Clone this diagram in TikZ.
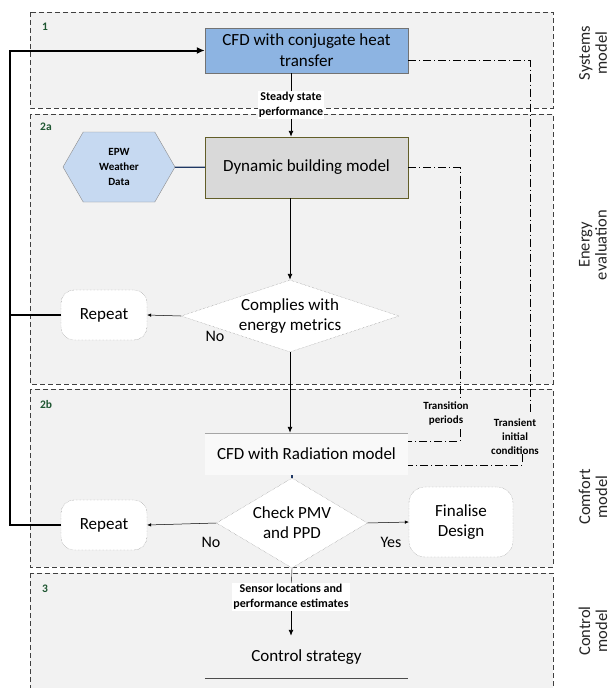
\documentclass[tikz,border=0pt]{standalone}
\usepackage{fontspec}
\setmainfont{Carlito}
\usepackage{xcolor}
\usetikzlibrary{arrows.meta, positioning, shapes.geometric, shapes.symbols}

\definecolor{panelgray}{HTML}{F2F2F2}
\definecolor{cfdblue}{HTML}{8DB4E2}
\definecolor{epwblue}{HTML}{C6D9F1}
\definecolor{dyngray}{HTML}{D9D9D9}
\definecolor{radwhite}{HTML}{F9F9F9}
\definecolor{stagegreen}{HTML}{1E5631}
\definecolor{linknavy}{HTML}{1F3864}

\begin{document}
\begin{tikzpicture}[x=1pt, y=-1pt,
  panel/.style={draw=black!75, fill=panelgray, line width=0.8pt, dash pattern=on 5pt off 3pt},
  box/.style={align=center, font=\fontsize{17}{21}\selectfont, minimum width=203pt, inner sep=4pt},
  decision/.style={diamond, draw=black!50, densely dotted, fill=white, align=center,
                   font=\fontsize{17}{20}\selectfont},
  term/.style={rounded corners=13pt, draw=black!50, densely dotted, fill=white, align=center,
               font=\fontsize{17}{20}\selectfont, minimum width=86pt, minimum height=50pt},
  note/.style={font=\bfseries\fontsize{11}{14}\selectfont, align=center, inner sep=1pt},
  stage/.style={font=\bfseries\fontsize{11.5}{13}\selectfont, text=stagegreen},
  side/.style={rotate=90, align=center, font=\fontsize{16.5}{17}\selectfont, text=black!85},
  answer/.style={font=\fontsize{16}{18}\selectfont},
  arr/.style={-{Latex[length=6pt, width=5pt]}, line width=0.9pt},
  thinarr/.style={-{Latex[length=4pt, width=3.5pt]}, line width=0.5pt},
  dd/.style={line width=0.9pt, dash pattern=on 8pt off 3pt on 1pt off 3pt},
  loopline/.style={line width=2pt},
]
  \useasboundingbox (0,0) rectangle (611,688);
  \fill[white] (0,0) rectangle (611,688);

  % stages
  \draw[panel] (30,12) rectangle (553,108);
  \draw[panel] (30,114) rectangle (553,384);
  \draw[panel] (30,389) rectangle (553,567);
  \draw[panel] (30,573) rectangle (553,700);

  \node[stage] (s1)  at (45,27)  {1};
  \node[stage] (s2a) at (46,127) {2a};
  \node[stage] (s2b) at (46,405) {2b};
  \node[stage] (s3)  at (45,589) {3};

  \node[side] (sys)  at (593,53)  {Systems\\model};
  \node[side] (enr)  at (593,245) {Energy\\evaluation};
  \node[side] (cmf)  at (593,497) {Comfort\\model};
  \node[side] (ctl)  at (593,631) {Control\\model};

  % blocks
  \node[box, fill=cfdblue, draw=black!55, minimum height=45pt] (cfd) at (306.5,50.5)
       {CFD with conjugate heat\\transfer};
  \node[box, fill=dyngray, draw=olive!60!black, minimum height=61pt] (dyn) at (306.5,167.5)
       {Dynamic building model};
  \node[signal, signal to=west and east, signal pointer angle=120, fill=epwblue, draw=black!45,
        minimum width=112pt, minimum height=70pt, align=center, inner sep=1pt,
        font=\bfseries\fontsize{11}{15}\selectfont] (epw) at (119,167) {EPW\\Weather\\Data};
  \node[decision, aspect=3, inner sep=-6pt, minimum width=218pt, minimum height=72pt] (dec1)
       at (290,316) {Complies with\\energy metrics};
  \node[term] (rep1) at (104,315) {Repeat};
  \node[box, fill=radwhite, minimum height=42pt] (rad) at (306.5,454) {CFD with Radiation model};
  \node[decision, aspect=1.7, inner sep=-2pt, minimum width=151pt, minimum height=90pt] (dec2)
       at (292,523) {Check PMV\\and PPD};
  \node[term] (rep2) at (104,525) {Repeat};
  \node[term, minimum width=104pt, minimum height=70pt, rounded corners=16pt] (fin) at (461,522)
       {Finalise\\Design};
  \node[box, minimum height=42pt] (ctrl) at (306.5,657) {Control strategy};

  \node[note, fill=white, font=\bfseries\fontsize{12}{15}\selectfont] (steady) at (291,105)
       {Steady state\\performance};
  \node[note, fill=white, font=\bfseries\fontsize{12}{15}\selectfont] (sensor) at (291,597)
       {Sensor locations and\\performance estimates};
  \node[note] (transit)   at (446,413) {Transition\\periods};
  \node[note] (transient) at (515,437) {Transient\\initial\\conditions};

  \node[answer] (no1)  at (215,336) {No};
  \node[answer] (no2)  at (211,542) {No};
  \node[answer] (yes2) at (391,542) {Yes};

  % flow
  \draw (steady |- cfd.south) -- (steady);
  \draw[arr] (steady) -- (steady |- dyn.north);
  \draw[linknavy, line width=1.2pt] (epw) -- (dyn);
  \draw[arr] (dec1 |- dyn.south) -- (dec1.north);
  \draw[thinarr] (dec1.west) -- (rep1.east);
  \draw[arr] (dec1.south) -- (dec1.south |- rad.north);
  \draw[black!35] (rad.north west) -- (rad.north east);
  \draw[linknavy, line width=1.2pt] (rad.south -| dec2) -- (dec2.north);
  \draw[thinarr] (dec2.west) -- (rep2.east);
  \draw[thinarr] (dec2.east) -- (fin.west);
  \draw (dec2.south) -- (sensor);
  \draw[arr] (sensor) -- (sensor |- ctrl.north);
  \draw[black!70, line width=0.8pt] (ctrl.south west) -- (ctrl.south east);

  % repeat loop
  \coordinate (back) at (10,300);
  \draw[loopline, -{Latex[length=8pt, width=7pt]}] (rep2.west) -| (back) |- (cfd.west);
  \draw[loopline] (rep1.west) -- (rep1.west -| back);

  % transient data
  \coordinate (tA) at (530,414);
  \coordinate (tB) at (522,454);
  \draw[dd] ([yshift=-10pt]cfd.east) -| (tA);
  \draw[dd] (tB) |- ([yshift=-11pt]rad.east);
  \coordinate (pA) at (460,399);
  \coordinate (pB) at (460,429);
  \draw[dd] (dyn.east) -| (pA);
  \draw[dd] (pB) |- ([yshift=13pt]rad.east);
\end{tikzpicture}
\end{document}
